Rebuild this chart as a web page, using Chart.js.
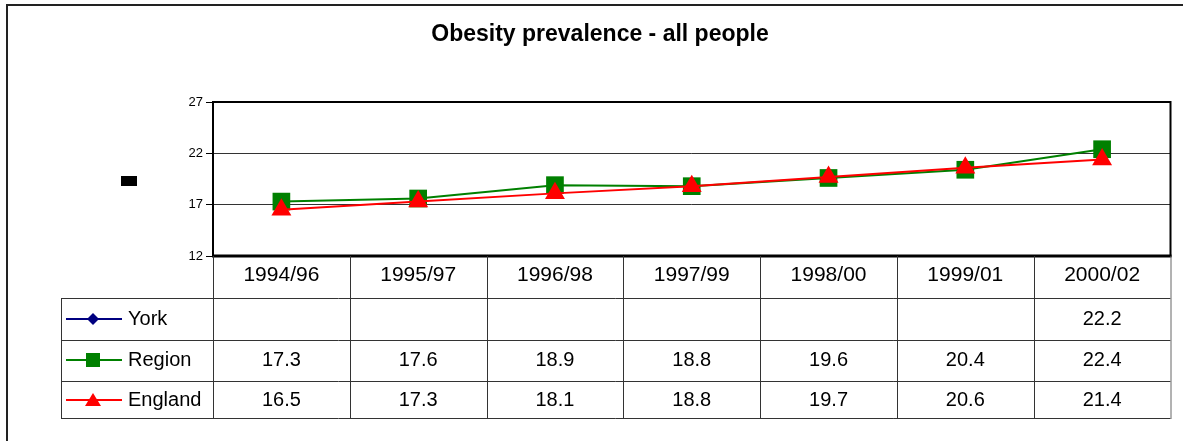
<!DOCTYPE html>
<html>
<head>
<meta charset="utf-8">
<title>Obesity prevalence - all people</title>
<script src="https://cdn.jsdelivr.net/npm/chart.js@4/dist/chart.umd.min.js"></script>
<style>
  html, body { margin: 0; padding: 0; background: #ffffff; }
  #wrap { width: 1183px; height: 441px; }
</style>
</head>
<body>
<div id="wrap"><canvas id="chart" width="1183" height="441"></canvas></div>
<script>
// Periods shown along the bottom of the plot and as the table header
const categories = ['1994/96', '1995/97', '1996/98', '1997/99', '1998/00', '1999/01', '2000/02'];

// Obesity prevalence (%) per period
const york    = [null, null, null, null, null, null, 22.2];
const region  = [17.3, 17.6, 18.9, 18.8, 19.6, 20.4, 22.4];
const england = [16.5, 17.3, 18.1, 18.8, 19.7, 20.6, 21.4];

// Value axis ticks
const yTicks = [12, 17, 22, 27];

const FONT = '"Liberation Sans", Arial, sans-serif';
const LEFT_PAD = 27;

const seriesStyle = [
  { label: 'York',    data: york,    color: '#000080', marker: 'rectRot',  radius: 8.5, order: 2 },
  { label: 'Region',  data: region,  color: '#008000', marker: 'rect',     radius: 12.5, order: 1 },
  { label: 'England', data: england, color: '#ff0000', marker: 'triangle', radius: 11.5, order: 0 }
];

// Small legend glyph drawn in the first table column
function drawGlyph(ctx, kind, x, y, color) {
  ctx.save();
  ctx.fillStyle = color;
  ctx.beginPath();
  if (kind === 'rect') {
    ctx.rect(x - 7, y - 7, 14, 14);
  } else if (kind === 'rectRot') {
    ctx.moveTo(x, y - 6); ctx.lineTo(x + 6, y); ctx.lineTo(x, y + 6); ctx.lineTo(x - 6, y);
    ctx.closePath();
  } else {
    ctx.moveTo(x, y - 7); ctx.lineTo(x + 8, y + 6); ctx.lineTo(x - 8, y + 6);
    ctx.closePath();
  }
  ctx.fill();
  ctx.restore();
}

// Plot frame, outer chart frame and the data table below the plot
const framePlugin = {
  id: 'frameAndTable',
  beforeDatasetsDraw(chart) {
    const { ctx, chartArea: a } = chart;
    ctx.save();
    ctx.strokeStyle = '#000000';
    ctx.lineWidth = 2;
    ctx.strokeRect(a.left, a.top, a.right - a.left, a.bottom - a.top);
    ctx.lineWidth = 3;
    ctx.beginPath();
    ctx.moveTo(a.left - 1, a.bottom);
    ctx.lineTo(a.right + 1, a.bottom);
    ctx.stroke();
    ctx.restore();
  },
  afterDraw(chart) {
    const { ctx, chartArea: a } = chart;
    const x = chart.scales.x;
    const n = categories.length;
    const colW = (a.right - a.left) / n;
    const tableLeft = 61;
    const rows = [a.bottom, 298, 340, 381, 418];

    ctx.save();
    // outer chart frame (left and top edges)
    ctx.strokeStyle = '#222222';
    ctx.lineWidth = 2;
    ctx.beginPath();
    ctx.moveTo(7, 441); ctx.lineTo(7, 5); ctx.lineTo(1183, 5);
    ctx.stroke();

    // small black block to the left of the value axis
    ctx.fillStyle = '#000000';
    ctx.fillRect(121, 176, 16, 10);

    // table grid
    ctx.lineWidth = 1;
    ctx.strokeStyle = '#333333';
    ctx.beginPath();
    for (let r = 1; r < rows.length; r++) {
      ctx.moveTo(tableLeft, rows[r] + 0.5);
      ctx.lineTo(a.right, rows[r] + 0.5);
    }
    ctx.moveTo(tableLeft + 0.5, rows[1]);
    ctx.lineTo(tableLeft + 0.5, rows[4]);
    for (let i = 0; i < n; i++) {
      const cx = Math.round(a.left + i * colW) + 0.5;
      ctx.moveTo(cx, a.bottom);
      ctx.lineTo(cx, rows[4]);
    }
    ctx.stroke();
    ctx.strokeStyle = '#666666';
    ctx.beginPath();
    ctx.moveTo(a.right + 0.5, a.bottom);
    ctx.lineTo(a.right + 0.5, rows[4] + 1);
    ctx.stroke();

    // header labels
    ctx.fillStyle = '#000000';
    ctx.textAlign = 'center';
    ctx.textBaseline = 'middle';
    ctx.font = '21px ' + FONT;
    categories.forEach((c, i) => {
      ctx.fillText(c, x.getPixelForValue(i), 275);
    });

    // series rows
    ctx.font = '20px ' + FONT;
    const rowMid = [319, 360, 400];
    seriesStyle.forEach((s, r) => {
      const y = rowMid[r];
      ctx.strokeStyle = s.color;
      ctx.lineWidth = 2;
      ctx.beginPath();
      ctx.moveTo(66, y);
      ctx.lineTo(122, y);
      ctx.stroke();
      drawGlyph(ctx, s.marker, 93, y, s.color);
      ctx.fillStyle = '#000000';
      ctx.textAlign = 'left';
      ctx.fillText(s.label, 128, y);
      ctx.textAlign = 'center';
      s.data.forEach((v, i) => {
        if (v !== null) ctx.fillText(v.toFixed(1), x.getPixelForValue(i), y);
      });
    });
    ctx.restore();
  }
};

new Chart(document.getElementById('chart'), {
  type: 'line',
  data: {
    labels: categories,
    datasets: seriesStyle.map(s => ({
      label: s.label,
      data: s.data,
      order: s.order,
      borderColor: s.color,
      backgroundColor: s.color,
      borderWidth: 2,
      pointStyle: s.marker,
      pointRadius: s.radius,
      pointHoverRadius: s.radius,
      pointBorderWidth: 0,
      pointBackgroundColor: s.color,
      tension: 0,
      spanGaps: false,
      clip: false
    }))
  },
  plugins: [framePlugin],
  options: {
    responsive: false,
    animation: false,
    layout: { padding: { left: LEFT_PAD, top: 0, right: 10, bottom: 185 } },
    plugins: {
      legend: { display: false },
      tooltip: { enabled: false },
      title: {
        display: true,
        text: 'Obesity prevalence - all people',
        color: '#000000',
        font: { family: FONT, size: 23, weight: 'bold', lineHeight: 1.2 },
        padding: { top: 20.5, bottom: 53.9 }
      }
    },
    scales: {
      x: {
        type: 'category',
        offset: true,
        display: false
      },
      y: {
        min: 12,
        max: 27,
        afterFit(scale) { scale.width = 213 - LEFT_PAD; },
        afterBuildTicks(scale) { scale.ticks = yTicks.map(v => ({ value: v })); },
        ticks: {
          color: '#000000',
          padding: 3,
          font: { family: FONT, size: 13 }
        },
        grid: {
          color: '#333333',
          lineWidth: 1,
          drawTicks: true,
          tickLength: 7,
          tickColor: '#000000'
        },
        border: { display: false }
      }
    }
  }
});
</script>
</body>
</html>
